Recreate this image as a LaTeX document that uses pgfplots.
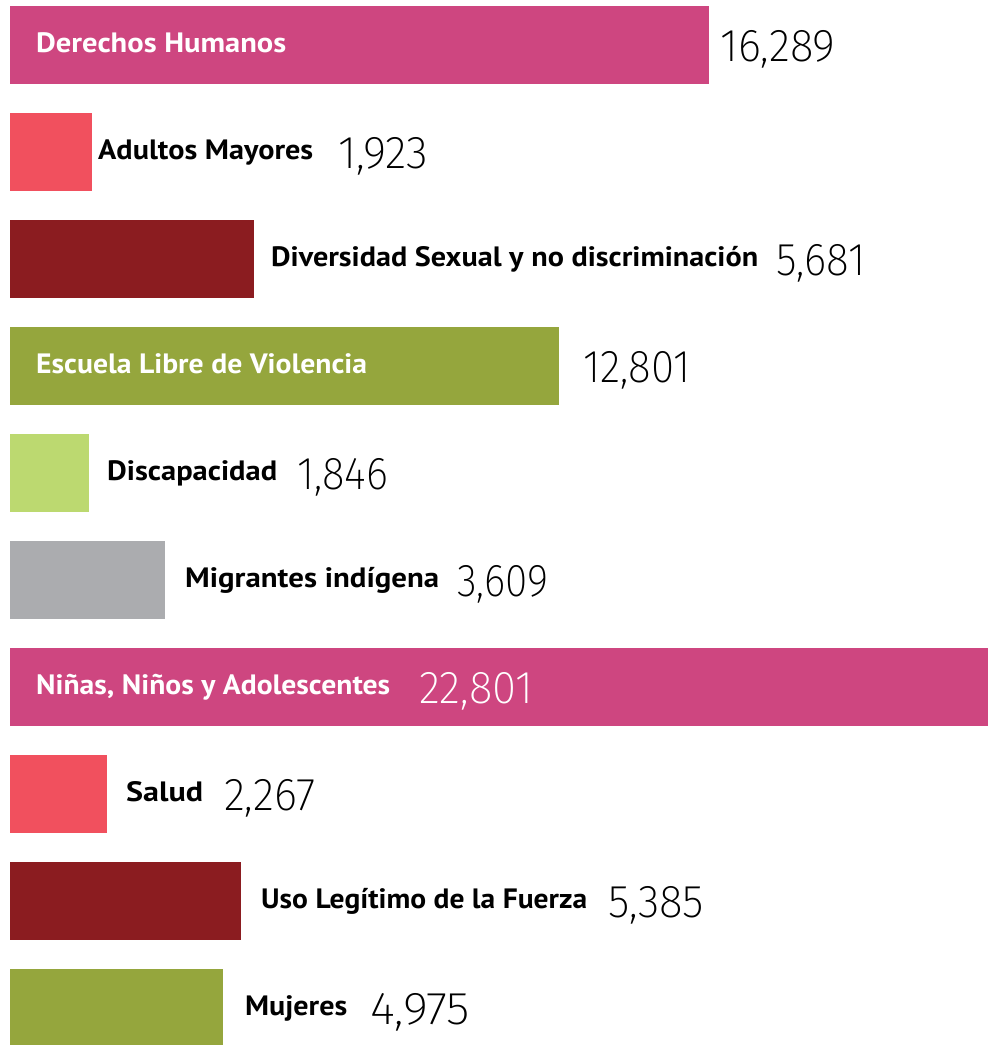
\documentclass[border=0pt]{standalone}
\usepackage{graphicx}
\usepackage{pgfplots}
\pgfplotsset{compat=1.18}
\usepackage{fontspec}
\setmainfont{PT Sans}
\newfontfamily\valfont{Fira Sans ExtraLight}
\definecolor{cpink}{RGB}{206,70,128}
\definecolor{ccoral}{RGB}{241,80,94}
\definecolor{cdred}{RGB}{139,28,32}
\definecolor{colive}{RGB}{149,166,61}
\definecolor{clgreen}{RGB}{188,217,112}
\definecolor{cgray}{RGB}{171,172,175}
\newlength\fitlen
\newcommand\fitx[2]{\settowidth\fitlen{#2}\pgfmathsetmacro\fitsx{#1/\fitlen}\scalebox{\fitsx}[1]{#2}}
\newcommand\lab[5]{\node[anchor=base west, inner sep=0pt, text=#4, font=\fontsize{28}{30}\selectfont\bfseries] at (axis cs:#1,{#2+0.075}) {\fitx{#3}{#5}};}
\newcommand\val[5]{\node[anchor=base west, inner sep=0pt, text=#4, font=\fontsize{46}{50}\selectfont\valfont] at (axis cs:#1,{#2+0.154}) {\fitx{#3}{#5}};}
\begin{document}
\begin{tikzpicture}[x=1pt,y=1pt]
\useasboundingbox (0pt,0pt) rectangle (988pt,1045pt);
\begin{axis}[
  at={(10pt,0pt)}, anchor=south west,
  scale only axis, width=978pt, height=1045pt,
  xmin=0, xmax=22801,
  ymin=-0.4182, ymax=9.348, y dir=reverse,
  hide axis, clip=false,
  xbar, bar shift=0pt, bar width=0.724,
]
\addplot[fill=cpink, draw=none] coordinates {(16289,0)};
\addplot[fill=ccoral, draw=none] coordinates {(1923,1)};
\addplot[fill=cdred, draw=none] coordinates {(5681,2)};
\addplot[fill=colive, draw=none] coordinates {(12801,3)};
\addplot[fill=clgreen, draw=none] coordinates {(1846,4)};
\addplot[fill=cgray, draw=none] coordinates {(3609,5)};
\addplot[fill=cpink, draw=none] coordinates {(22801,6)};
\addplot[fill=ccoral, draw=none] coordinates {(2267,7)};
\addplot[fill=cdred, draw=none] coordinates {(5385,8)};
\addplot[fill=colive, draw=none] coordinates {(4975,9)};
\lab{606}{0}{250}{white}{Derechos Humanos}
\lab{2052}{1}{215}{black}{Adultos Mayores}
\lab{6085}{2}{487}{black}{Diversidad Sexual y no discriminación}
\lab{606}{3}{331}{white}{Escuela Libre de Violencia}
\lab{2261}{4}{170}{black}{Discapacidad}
\lab{4080}{5}{254}{black}{Migrantes indígena}
\lab{606}{6}{354}{white}{Niñas, Niños y Adolescentes}
\lab{2704}{7}{77}{black}{Salud}
\lab{5852}{8}{326}{black}{Uso Legítimo de la Fuerza}
\lab{5479}{9}{102}{black}{Mujeres}
\val{16553}{0}{115}{black}{16,289}
\val{7647}{1}{90}{black}{1,923}
\val{17859}{2}{89}{black}{5,681}
\val{13359}{3}{107}{black}{12,801}
\val{6691}{4}{91}{black}{1,846}
\val{10421}{5}{91}{black}{3,609}
\val{9535}{6}{114}{white}{22,801}
\val{4989}{7}{91}{black}{2,267}
\val{13942}{8}{96}{black}{5,385}
\val{8393}{9}{100}{black}{4,975}
\end{axis}
\end{tikzpicture}
\end{document}
